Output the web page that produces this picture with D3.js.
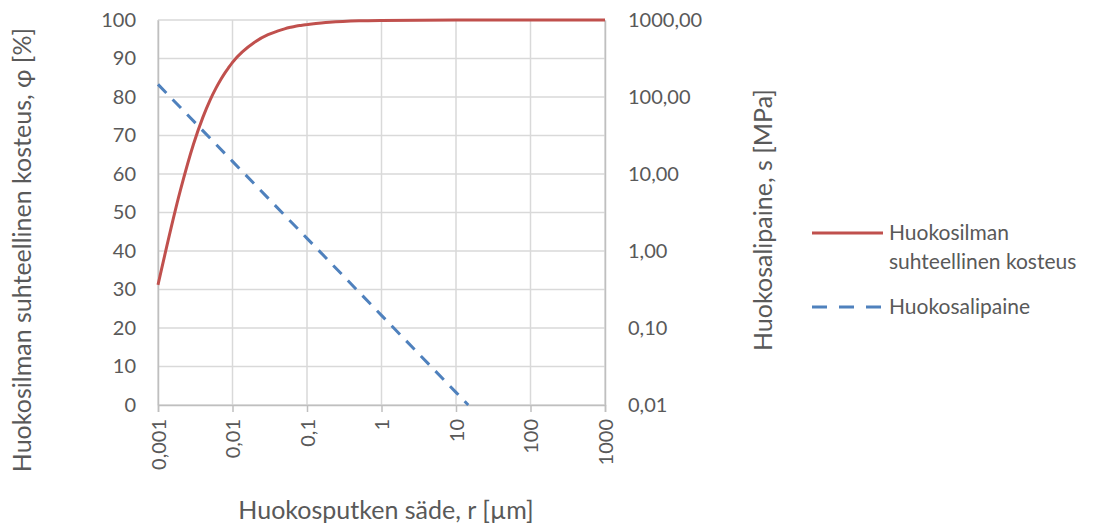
<!DOCTYPE html>
<html>
<head>
<meta charset="utf-8">
<script src="https://cdn.jsdelivr.net/npm/d3@7"></script>
<style>
body { margin: 0; background: #fff; }
text { font-family: Lato, "Open Sans", sans-serif; fill: #595959; }
</style>
</head>
<body>
<div id="chart"></div>
<script>
// huokossäde r [µm]
var xTicks = [0.001, 0.01, 0.1, 1, 10, 100, 1000];
var xTickLabels = ["0,001", "0,01", "0,1", "1", "10", "100", "1000"];
var yLeftTicks = [0, 10, 20, 30, 40, 50, 60, 70, 80, 90, 100];
var yRightTicks = [0.01, 0.1, 1, 10, 100, 1000];
var yRightLabels = ["0,01", "0,10", "1,00", "10,00", "100,00", "1000,00"];

// suhteellinen kosteus φ [%]
var rhR = [0.001, 0.002, 0.003, 0.004, 0.005, 0.006, 0.007, 0.008, 0.009, 0.01,
           0.02, 0.03, 0.04, 0.05, 0.06, 0.07, 0.08, 0.09, 0.1, 0.2, 0.5, 1, 10, 100, 1000];
var rhVal = [31.2, 55.8, 67.8, 74.7, 79.2, 82.3, 84.6, 86.4, 87.8, 89.0,
             94.3, 96.2, 97.1, 97.7, 98.1, 98.4, 98.6, 98.7, 98.8, 99.4, 99.8, 99.9, 100, 100, 100];

// huokosalipaine s [MPa]
var sR = [0.001, 0.01, 0.1, 1, 10, 14.6];
var sVal = [146, 14.6, 1.46, 0.146, 0.0146, 0.01];

var W = 1101, H = 524;
var margin = {top: 20, right: 496, bottom: 119, left: 158};
var width = W - margin.left - margin.right,
	height = H - margin.top - margin.bottom;

var svg = d3.select("#chart")
			.append("svg")
			.attr("width", W)
			.attr("height", H);

var g = svg.append("g")
			.attr("transform", "translate(" + margin.left + "," + margin.top + ")");

var x = d3.scaleLog().domain([0.001, 1000]).range([0, width]);
var yL = d3.scaleLinear().domain([0, 100]).range([height, 0]);
var yR = d3.scaleLog().domain([0.01, 1000]).range([height, 0]);

// ruudukko
g.append("g")
	.selectAll("line")
	.data(yLeftTicks)
	.join("line")
	.attr("x1", 0).attr("x2", width)
	.attr("y1", d => yL(d)).attr("y2", d => yL(d))
	.attr("stroke", "#d9d9d9").attr("stroke-width", 1.5);

g.append("g")
	.selectAll("line")
	.data(xTicks)
	.join("line")
	.attr("x1", d => x(d)).attr("x2", d => x(d))
	.attr("y1", 0).attr("y2", height)
	.attr("stroke", "#d9d9d9").attr("stroke-width", 1.5);

// akselit
var xAxis = g.append("g")
	.attr("transform", "translate(0," + height + ")")
	.call(d3.axisBottom(x).tickValues(xTicks).tickSize(7).tickFormat((d, i) => xTickLabels[i]));
xAxis.selectAll(".domain, .tick line").attr("stroke", "#bfbfbf").attr("stroke-width", 1.5);
xAxis.selectAll(".tick text")
	.attr("font-size", 20)
	.attr("transform", "rotate(-90)")
	.attr("text-anchor", "end")
	.attr("x", -14).attr("y", 0).attr("dy", "0.35em");

var yAxisL = g.append("g")
	.call(d3.axisLeft(yL).tickValues(yLeftTicks).tickSize(0).tickPadding(22));
yAxisL.selectAll(".domain").attr("stroke", "#bfbfbf").attr("stroke-width", 1.5);
yAxisL.selectAll(".tick text").attr("font-size", 20);

var yAxisR = g.append("g")
	.attr("transform", "translate(" + width + ",0)")
	.call(d3.axisRight(yR).tickValues(yRightTicks).tickSize(0).tickPadding(23).tickFormat((d, i) => yRightLabels[i]));
yAxisR.selectAll(".domain").attr("stroke", "#bfbfbf").attr("stroke-width", 1.5);
yAxisR.selectAll(".tick text").attr("font-size", 20);

// sarjat
g.append("path")
	.datum(rhR.map((r, i) => [r, rhVal[i]]))
	.attr("fill", "none")
	.attr("stroke", "#c0504d")
	.attr("stroke-width", 3)
	.attr("d", d3.line().x(d => x(d[0])).y(d => yL(d[1])).curve(d3.curveMonotoneX));

g.append("path")
	.datum(sR.map((r, i) => [r, sVal[i]]))
	.attr("fill", "none")
	.attr("stroke", "#4f81bd")
	.attr("stroke-width", 3)
	.attr("stroke-dasharray", "12,9")
	.attr("d", d3.line().x(d => x(d[0])).y(d => yR(d[1])));

// otsikot
svg.append("text")
	.attr("transform", "translate(31,250) rotate(-90)")
	.attr("text-anchor", "middle")
	.attr("font-size", 25)
	.text("Huokosilman suhteellinen kosteus, φ [%]");

svg.append("text")
	.attr("transform", "translate(772,220) rotate(-90)")
	.attr("text-anchor", "middle")
	.attr("font-size", 25)
	.text("Huokosalipaine, s [MPa]");

svg.append("text")
	.attr("x", 386).attr("y", 519)
	.attr("text-anchor", "middle")
	.attr("font-size", 25)
	.text("Huokosputken säde, r [µm]");

// selite
var legend = svg.append("g");
legend.append("line")
	.attr("x1", 812).attr("x2", 883).attr("y1", 233).attr("y2", 233)
	.attr("stroke", "#c0504d").attr("stroke-width", 3);
legend.append("text").attr("x", 889).attr("y", 240).attr("font-size", 21).text("Huokosilman");
legend.append("text").attr("x", 889).attr("y", 269).attr("font-size", 21).text("suhteellinen kosteus");
legend.append("line")
	.attr("x1", 812).attr("x2", 883).attr("y1", 307).attr("y2", 307)
	.attr("stroke", "#4f81bd").attr("stroke-width", 3).attr("stroke-dasharray", "15,12");
legend.append("text").attr("x", 889).attr("y", 314).attr("font-size", 21).text("Huokosalipaine");
</script>
</body>
</html>
